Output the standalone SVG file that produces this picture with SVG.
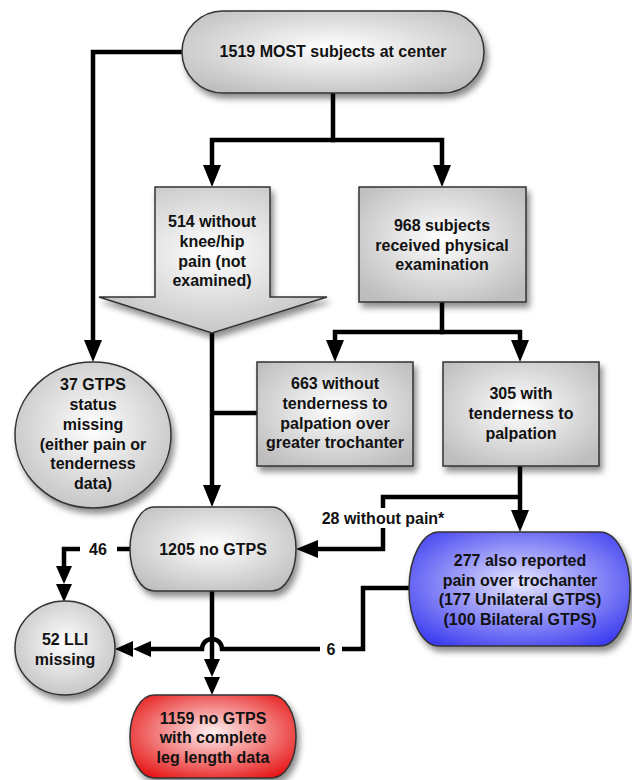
<svg xmlns="http://www.w3.org/2000/svg" width="632" height="780" viewBox="0 0 632 780">
<style>
text{font-family:"Liberation Sans",Arial,sans-serif;font-weight:bold;font-size:16px;fill:#111;text-anchor:middle}
.n{stroke:#333;stroke-width:1.5;filter:url(#sh)}
.g{fill:url(#gg)}
.c{fill:none;stroke:#000;stroke-width:4.5}
</style>
<defs>
<radialGradient id="gg" cx="0.5" cy="0.45" r="0.65"><stop offset="0" stop-color="#ffffff"/><stop offset="1" stop-color="#bdbdbd"/></radialGradient>
<radialGradient id="gb" cx="0.5" cy="0.45" r="0.65"><stop offset="0" stop-color="#e6e6ff"/><stop offset="1" stop-color="#3c3cf0"/></radialGradient>
<radialGradient id="gr" cx="0.5" cy="0.45" r="0.65"><stop offset="0" stop-color="#fff0f0"/><stop offset="1" stop-color="#e61414"/></radialGradient>
<filter id="sh" x="-20%" y="-20%" width="140%" height="150%"><feDropShadow dx="3" dy="5" stdDeviation="3" flood-color="#000" flood-opacity="0.45"/></filter>
<marker id="a" markerUnits="userSpaceOnUse" markerWidth="24" markerHeight="18" refX="2" refY="9" orient="auto"><path d="M0,0 L22,9 L0,18 Z" fill="#000"/></marker>
<marker id="d" markerUnits="userSpaceOnUse" markerWidth="38" markerHeight="18" refX="2" refY="9" orient="auto"><path d="M0,1 L18,9 L0,17 Z M18,1 L36,9 L18,17 Z" fill="#000"/></marker>
</defs>
<g id="connectors">
<path class="c" d="M182,52 H93 V342" marker-end="url(#a)"/>
<path class="c" d="M333,93 V140 H212 V167" marker-end="url(#a)"/>
<path class="c" d="M331,140 H442 V167" marker-end="url(#a)"/>
<path class="c" d="M442,302 V332 H335 V342" marker-end="url(#a)"/>
<path class="c" d="M440,332 H520 V342" marker-end="url(#a)"/>
<path class="c" d="M212,333 V487" marker-end="url(#a)"/>
<path class="c" d="M257,413 H212"/>
<path class="c" d="M520,466 V512" marker-end="url(#a)"/>
<path class="c" d="M520,497 H383 V508"/>
<path class="c" d="M383,528 V549 H316" marker-end="url(#a)"/>
<path class="c" d="M130,549 H117"/>
<path class="c" d="M80,549 H64 V568" marker-end="url(#d)"/>
<path class="c" d="M212,591 V661" marker-end="url(#d)"/>
<path class="c" d="M409,588 H363 V649 H342"/>
<path class="c" d="M320,649 H222 A10,10 0 0 0 202,649 H149" marker-end="url(#d)"/>
<text x="383" y="524">28 without pain*</text>
<text x="98" y="555">46</text>
<text x="331" y="655">6</text>
</g>
<g id="n1519">
<rect class="n g" x="182" y="11" width="302" height="82" rx="41" ry="41"/>
<text x="333" y="57">1519 MOST subjects at center</text>
</g>
<g id="n514">
<path class="n g" d="M155,187 H270 V297 H327 L212,333 L99,297 H155 Z"/>
<text x="212" y="227">514 without</text>
<text x="212" y="247">knee/hip</text>
<text x="212" y="267">pain (not</text>
<text x="212" y="286">examined)</text>
</g>
<g id="n968">
<rect class="n g" x="359" y="187" width="167" height="115"/>
<text x="442" y="231">968 subjects</text>
<text x="442" y="251">received physical</text>
<text x="442" y="270">examination</text>
</g>
<g id="n663">
<rect class="n g" x="257" y="362" width="156" height="104"/>
<text x="335" y="389">663 without</text>
<text x="335" y="409">tenderness to</text>
<text x="335" y="429">palpation over</text>
<text x="335" y="448">greater trochanter</text>
</g>
<g id="n305">
<rect class="n g" x="443" y="362" width="156" height="104"/>
<text x="521" y="399">305 with</text>
<text x="521" y="419">tenderness to</text>
<text x="521" y="439">palpation</text>
</g>
<g id="n37">
<ellipse class="n g" cx="93" cy="435" rx="78" ry="73"/>
<text x="93" y="390">37 GTPS</text>
<text x="93" y="410">status</text>
<text x="93" y="430">missing</text>
<text x="93" y="450">(either pain or</text>
<text x="93" y="469">tenderness</text>
<text x="93" y="489">data)</text>
</g>
<g id="n1205">
<rect class="n g" x="130" y="507" width="166" height="84" rx="24" ry="42"/>
<text x="213" y="555">1205 no GTPS</text>
</g>
<g id="n277">
<rect class="n" fill="url(#gb)" x="409" y="532" width="221" height="114" rx="30" ry="57"/>
<text x="520" y="566">277 also reported</text>
<text x="520" y="586">pain over trochanter</text>
<text x="520" y="605">(177 Unilateral GTPS)</text>
<text x="520" y="625">(100 Bilateral GTPS)</text>
</g>
<g id="n52">
<ellipse class="n g" cx="65" cy="648" rx="50" ry="47"/>
<text x="65" y="645">52 LLI</text>
<text x="65" y="665">missing</text>
</g>
<g id="n1159">
<rect class="n" fill="url(#gr)" x="130" y="695" width="166" height="83" rx="24" ry="41"/>
<text x="213" y="724">1159 no GTPS</text>
<text x="213" y="743">with complete</text>
<text x="213" y="763">leg length data</text>
</g>
</svg>
